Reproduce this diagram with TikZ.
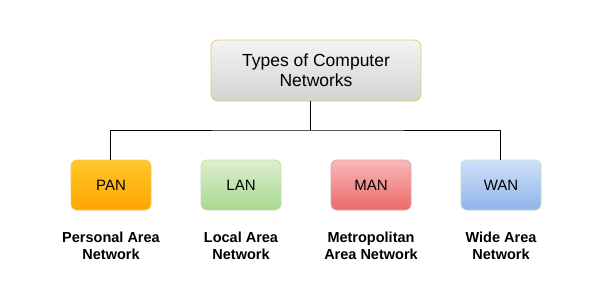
\documentclass[tikz,border=0pt]{standalone}
\usepackage{fontspec}
\setmainfont{Liberation Sans}
\begin{document}
\begin{tikzpicture}[x=1pt,y=-1pt,
  box/.style={rounded corners=6pt,minimum width=80pt,minimum height=50pt,inner sep=0pt,line width=0.8pt,font=\fontsize{15}{18}\selectfont},
  topbox/.style={rounded corners=7pt,minimum width=210pt,minimum height=61pt,inner sep=0pt,line width=0.8pt,draw=topbd,top color=toptop,bottom color=topbot,align=center,font=\fontsize{17.5}{20}\selectfont},
  lbl/.style={align=center,font=\bfseries\fontsize{14.5}{17.5}\selectfont},
  conn/.style={draw=black,line width=0.9pt}]
\definecolor{topbd}{HTML}{E8C86A}
\definecolor{toptop}{HTML}{F4F4F4}
\definecolor{topbot}{HTML}{D2D2D2}
\definecolor{panbd}{HTML}{F8C860}
\definecolor{pantop}{HTML}{FFC72A}
\definecolor{panbot}{HTML}{FFA500}
\definecolor{lanbd}{HTML}{C8E0B0}
\definecolor{lantop}{HTML}{DCEFCF}
\definecolor{lanbot}{HTML}{A8D88E}
\definecolor{manbd}{HTML}{D8A8A8}
\definecolor{mantop}{HTML}{F9B8B8}
\definecolor{manbot}{HTML}{EC6A6A}
\definecolor{wanbd}{HTML}{BEE0C0}
\definecolor{wantop}{HTML}{CFE0F8}
\definecolor{wanbot}{HTML}{8FB4EA}
\useasboundingbox[fill=white] (0,0) rectangle (601,301);
\node[topbox] (top) at (316,70.5) {Types of Computer\\Networks};
\node[box,draw=panbd,top color=pantop,bottom color=panbot] (pan) at (111,185) {PAN};
\node[box,draw=lanbd,top color=lantop,bottom color=lanbot] (lan) at (241,185) {LAN};
\node[box,draw=manbd,top color=mantop,bottom color=manbot] (man) at (371,185) {MAN};
\node[box,draw=wanbd,top color=wantop,bottom color=wanbot] (wan) at (501,185) {WAN};
\node[lbl] (panl) at (111,246) {Personal Area\\Network};
\node[lbl] (lanl) at (241,246) {Local Area\\Network};
\node[lbl] (manl) at (371,246) {Metropolitan\\Area Network};
\node[lbl] (wanl) at (501,246) {Wide Area\\Network};
\coordinate (bus) at (310,130);
\draw[conn] (top.south -| bus) -- (bus);
\draw[conn] (pan.north -| 110,0) |- (bus) -| (wan.north -| 500,0);
\draw[conn] (lan.north -| 240,0) -- (lan.north -| 240,130);
\draw[conn] (man.north -| 370,0) -- (man.north -| 370,130);
\end{tikzpicture}
\end{document}
